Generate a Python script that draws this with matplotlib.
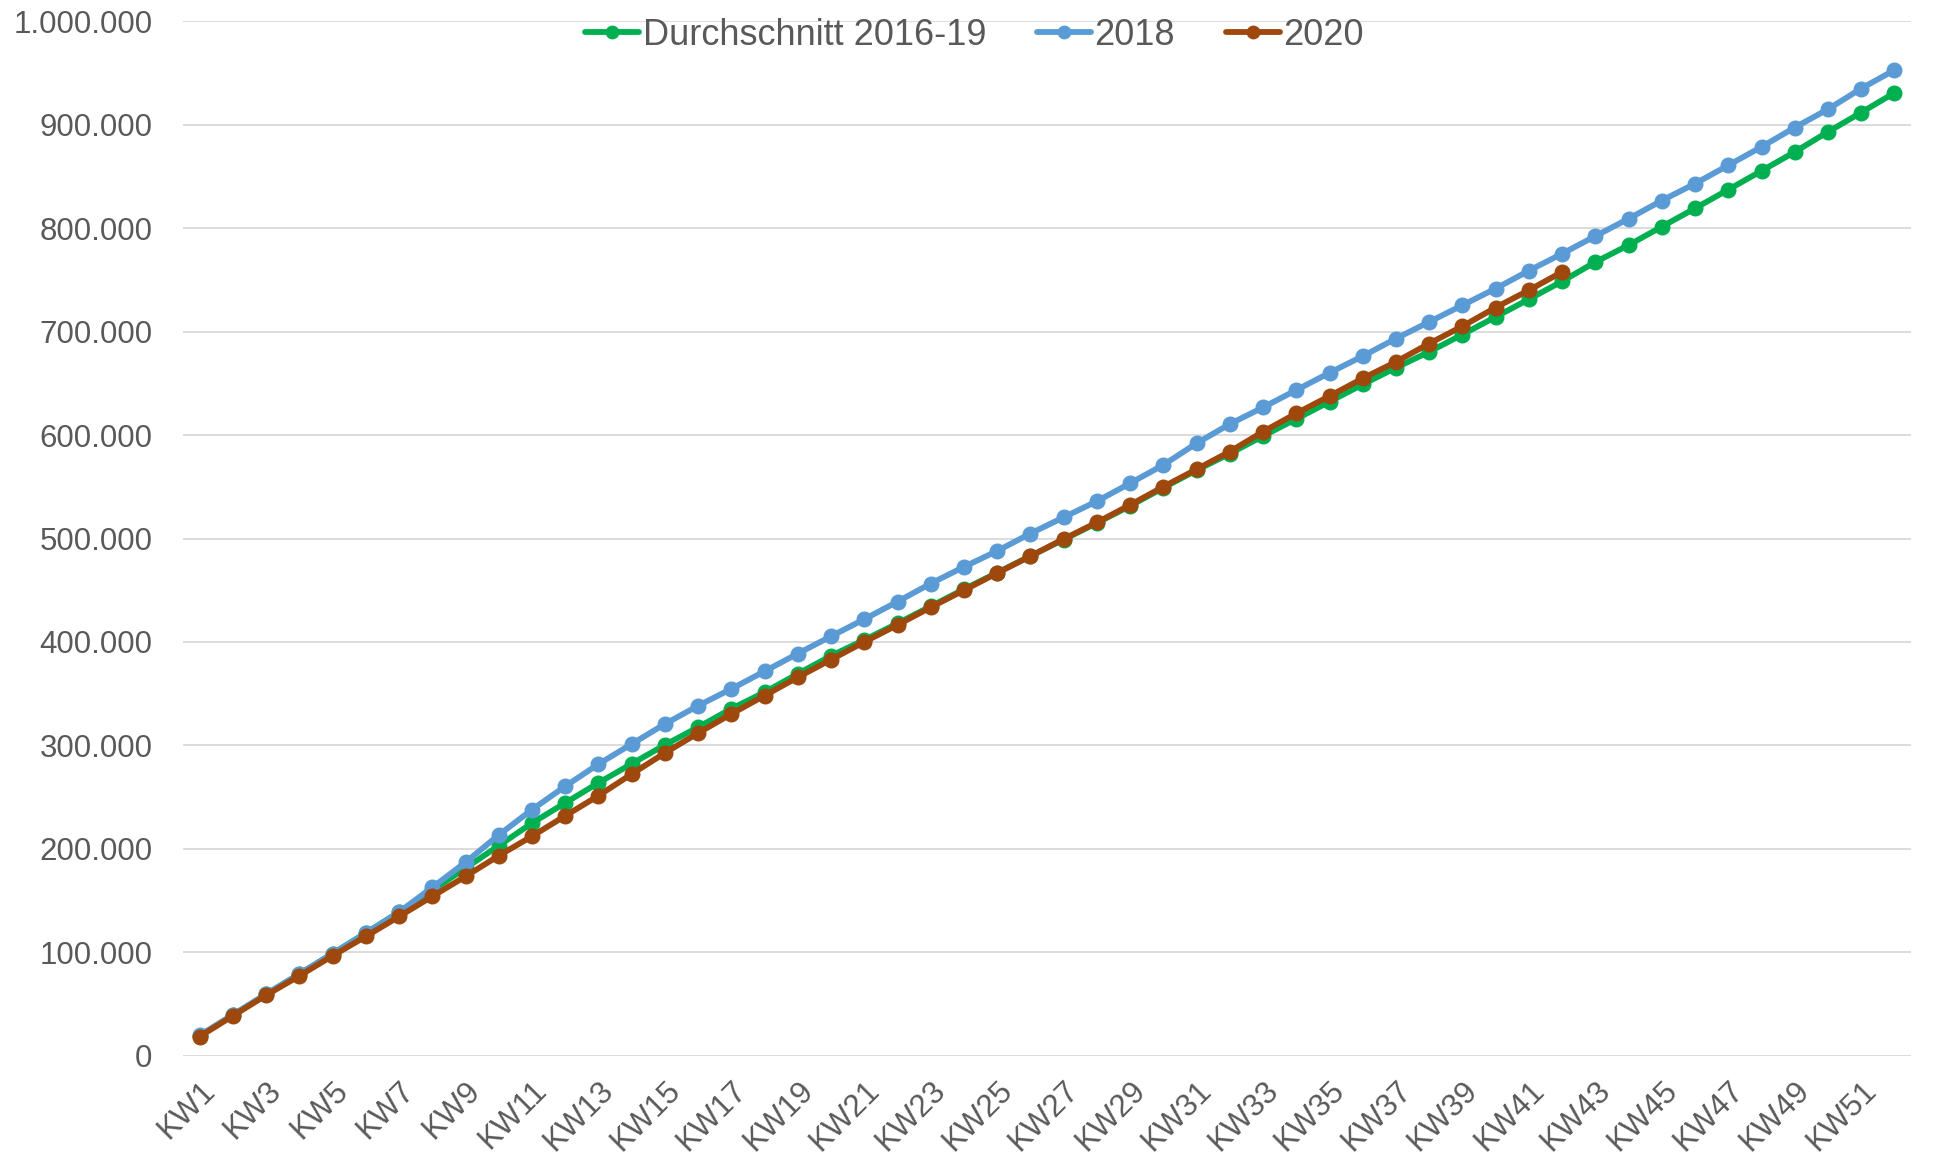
# Kumulierte Sterbefälle je Kalenderwoche: Durchschnitt 2016-19, 2018, 2020
import matplotlib
matplotlib.use("Agg")
import matplotlib.pyplot as plt
from matplotlib.ticker import FuncFormatter

plt.rcParams["font.family"] = ["Liberation Sans", "DejaVu Sans"]

# Kalenderwochen
weeks = ["KW" + str(i) for i in range(1, 53)]

# Werte in Tausend
avg_2016_19 = [19.5, 39.5, 59.5, 79.2, 99.0, 118.8, 139.0, 160.0, 181.5, 203.2,
               225.0, 244.5, 263.9, 282.3, 300.6, 317.7, 335.5, 351.5, 369.3, 386.7,
               402.0, 418.0, 434.5, 451.0, 467.0, 483.0, 499.0, 515.0, 531.5, 549.0,
               566.0, 582.0, 599.0, 615.5, 632.2, 648.9, 665.0, 680.4, 697.1, 714.1,
               731.2, 748.5, 767.1, 783.5, 801.3, 819.0, 837.1, 855.2, 873.5, 892.9,
               911.6, 930.6]
year_2018 = [19.8, 39.8, 59.8, 79.3, 98.8, 118.5, 139.0, 162.9, 187.1, 213.5,
             238.0, 260.6, 282.0, 301.4, 320.8, 338.4, 354.7, 371.7, 388.8, 405.5,
             422.0, 439.0, 456.5, 472.6, 488.0, 504.8, 520.5, 536.0, 553.4, 571.1,
             592.0, 610.6, 626.7, 643.4, 660.1, 676.2, 693.2, 709.3, 725.4, 741.5,
             758.8, 775.2, 792.2, 809.0, 826.5, 842.9, 860.6, 878.4, 897.1, 914.8,
             934.8, 952.6]
year_2020 = [18.8, 38.8, 58.7, 77.4, 96.8, 115.5, 134.8, 154.2, 173.5, 193.5,
             212.3, 232.0, 251.5, 272.4, 292.8, 312.0, 330.5, 348.2, 365.9, 383.0,
             400.0, 416.5, 433.5, 450.0, 466.6, 483.0, 499.5, 515.5, 532.5, 550.0,
             566.9, 584.0, 603.2, 620.9, 637.6, 654.7, 670.7, 688.4, 705.1, 723.2,
             739.9, 757.6]

series = [
    ("Durchschnitt 2016-19", avg_2016_19, "#00B050"),
    ("2018", year_2018, "#5B9BD5"),
    ("2020", year_2020, "#9E480E"),
]

text_color = "#595959"

fig = plt.figure(figsize=(19.37, 11.75), dpi=100)
ax = fig.add_axes([0.0945, 0.1013, 0.8921, 0.8808])

x = list(range(len(weeks)))
for name, vals, col in series:
    ax.plot(x[:len(vals)], [v * 1000 for v in vals], color=col, lw=4.2,
            marker="o", markersize=10.5, label=name, solid_capstyle="round")

ax.set_xlim(-0.5, len(weeks) - 0.5)
ax.set_ylim(0, 1000000)
ax.set_yticks(range(0, 1000001, 100000))
ax.yaxis.set_major_formatter(FuncFormatter(lambda v, p: f"{int(v):,}".replace(",", ".")))
ax.set_xticks(x[::2])
ax.set_xticklabels(weeks[::2], rotation=45, ha="right", rotation_mode="anchor")

ax.grid(axis="y", color="#d9d9d9", lw=1.3)
ax.set_axisbelow(True)
for s in ax.spines.values():
    s.set_visible(False)
ax.tick_params(axis="both", length=0, labelsize=22.5, labelcolor=text_color)
ax.tick_params(axis="y", pad=22)
ax.tick_params(axis="x", pad=14)

fig.legend(loc="center", bbox_to_anchor=(0.503, 0.970), ncol=3, frameon=False,
           fontsize=26, labelcolor=text_color, handlelength=1.5, handletextpad=0.1,
           columnspacing=1.4, markerscale=0.85)

fig.savefig("out.png", dpi=100)
